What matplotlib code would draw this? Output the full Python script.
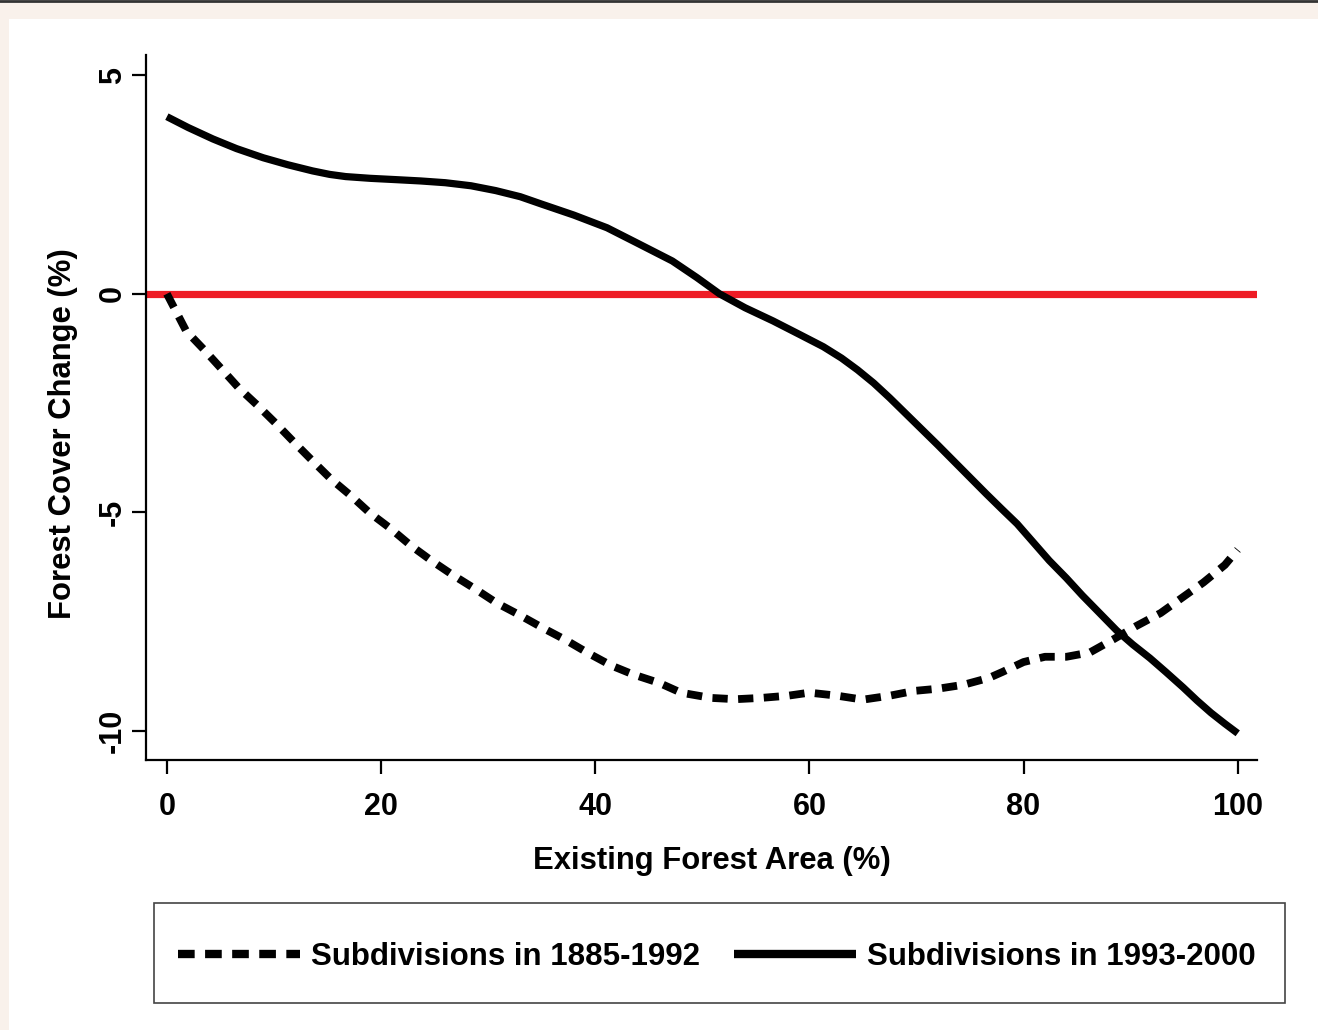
import matplotlib
matplotlib.use("Agg")
import matplotlib.pyplot as plt
from matplotlib.patches import Rectangle
from matplotlib.lines import Line2D

plt.rcParams['font.family'] = ['Liberation Sans', 'DejaVu Sans']
plt.rcParams['font.weight'] = 'bold'
plt.rcParams['lines.scale_dashes'] = False
plt.rcParams['axes.unicode_minus'] = False

# forest cover change curves
x_old = [0, 1.8, 3.4, 5, 6.7, 8.5, 10.2, 11.9, 13.6, 15.3, 17.2, 18.9, 20.9, 22.8,
         24.7, 26.7, 28.8, 30.8, 32.9, 35.1, 37.2, 39.3, 41.5, 43.5, 46, 48,
         50.8, 53.1, 55.5, 58, 60, 62.6, 65, 67.5, 69.8, 72, 74.4, 76.8, 78,
         80, 82, 84, 86.2, 88.4, 90.5, 92.8, 94.8, 96.8, 98.8, 100]
y_old = [0, -0.85, -1.26, -1.69, -2.15, -2.56, -2.97, -3.4, -3.82, -4.23, -4.62,
         -5.0, -5.37, -5.76, -6.1, -6.43, -6.75, -7.07, -7.34, -7.64, -7.91,
         -8.21, -8.5, -8.7, -8.9, -9.12, -9.24, -9.27, -9.24, -9.19, -9.12,
         -9.19, -9.28, -9.19, -9.08, -9.03, -8.94, -8.78, -8.65, -8.42, -8.3,
         -8.3, -8.2, -7.9, -7.6, -7.3, -6.95, -6.6, -6.2, -5.85]

x_new = [0, 2, 4.3, 6.5, 9, 11.3, 13.6, 15.2, 16.7, 19, 21.4, 23.7, 26, 28.4,
         30.7, 33, 35, 38, 41.1, 44, 47.2, 49.5, 51.6, 54, 56.6, 59, 61.3, 63,
         64.5, 66, 67.5, 69, 70.5, 72, 73.5, 75, 76.5, 78, 79.4, 80.9, 82.4,
         84, 85.5, 87.1, 88.7, 90.2, 91.8, 93.3, 94.9, 96.2, 97.5, 98.8, 100]
y_new = [4.05, 3.8, 3.54, 3.32, 3.11, 2.95, 2.81, 2.73, 2.68, 2.64, 2.61, 2.58,
         2.54, 2.47, 2.36, 2.22, 2.05, 1.8, 1.51, 1.15, 0.75, 0.37, 0.0, -0.32,
         -0.62, -0.92, -1.21, -1.47, -1.74, -2.04, -2.38, -2.74, -3.1, -3.46,
         -3.83, -4.2, -4.57, -4.93, -5.26, -5.68, -6.1, -6.5, -6.9, -7.3, -7.7,
         -8.02, -8.33, -8.65, -9.0, -9.3, -9.58, -9.83, -10.05]

xticks = [0, 20, 40, 60, 80, 100]
yticks = [-10, -5, 0, 5]
labels = ['Subdivisions in 1885-1992', 'Subdivisions in 1993-2000']

W, H = 1318, 1030
fig = plt.figure(figsize=(W / 100, H / 100), dpi=100)
fig.patch.set_facecolor('#f9f1eb')
fig.patches.append(Rectangle((9 / W, 0), 1, (H - 19) / H, transform=fig.transFigure,
                             facecolor='white', edgecolor='none', zorder=-5))
fig.lines.append(Line2D([0, 1], [1 - 1 / H, 1 - 1 / H], transform=fig.transFigure,
                        color='#333333', lw=2))

ax = fig.add_axes([146 / W, 1 - 760 / H, (1257 - 146) / W, (760 - 55) / H])
ax.set_facecolor('none')

ax.axhline(0, color='#ee1c25', lw=5.2, zorder=1)
ax.plot(x_old, y_old, color='black', lw=5.6, dashes=(11, 7.5),
        dash_capstyle='butt', dash_joinstyle='round', zorder=2)
ax.plot(x_new, y_new, color='black', lw=5.2, solid_capstyle='butt',
        solid_joinstyle='round', zorder=3)

ax.set_xlim(-1.95, 101.8)
ax.set_ylim(-10.66, 5.46)
for s in ['top', 'right']:
    ax.spines[s].set_visible(False)
for s in ['left', 'bottom']:
    ax.spines[s].set_linewidth(1.6)
ax.set_xticks(xticks)
ax.set_yticks(yticks)
ax.tick_params(length=10, width=1.6, labelsize=22)
ax.tick_params(axis='x', pad=13)
ax.tick_params(axis='y', pad=3)
for t in ax.get_yticklabels():
    t.set_rotation(90)
    t.set_va('center')
ax.set_xlabel('Existing Forest Area (%)', fontsize=22.3, fontweight='bold', labelpad=17)
ax.set_ylabel('Forest Cover Change (%)', fontsize=22.3, fontweight='bold', labelpad=14)
ax.xaxis.label.set_x((712 - 146) / 1111)
ax.yaxis.label.set_y((760 - 434) / 705)

# legend box
fig.patches.append(Rectangle((154 / W, 1 - 1003 / H), (1285 - 154) / W, 100 / H,
                             transform=fig.transFigure, facecolor='white',
                             edgecolor='#444444', lw=1.2, zorder=1))
h1 = Line2D([], [], color='black', lw=6, dashes=(12, 7.5), dash_capstyle='butt')
h2 = Line2D([], [], color='black', lw=6, solid_capstyle='butt')
fig.legend([h1, h2], labels, loc='center', bbox_to_anchor=(717 / W, 1 - 957 / H),
           ncol=2, frameon=False, handlelength=3.9, handletextpad=0.35,
           columnspacing=1.1, prop={'size': 22.5, 'weight': 'bold'})

fig.savefig('out.png', dpi=100, facecolor=fig.get_facecolor())
